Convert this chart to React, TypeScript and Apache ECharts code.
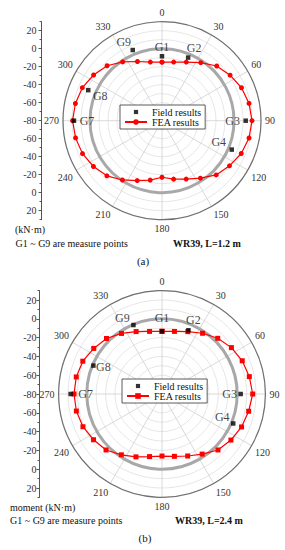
import React, { useEffect, useRef } from 'react';
import * as echarts from 'echarts';

// ---------- data ----------
const FEA_ANGLES = [
  0, 11.25, 22.5, 33.75, 45, 56.25, 67.5, 78.75,
  90, 101.25, 112.5, 123.75, 135, 146.25, 157.5, 168.75,
  180, 191.25, 202.5, 213.75, 225, 236.25, 247.5, 258.75,
  270, 281.25, 292.5, 303.75, 315, 326.25, 337.5, 348.75,
];
const FEA_A = [
  -15, -13.6, -9.5, -2.5, 6, 11, 15.6, 18.6,
  20, 18.6, 15.3, 10.2, 5.2, -3.2, -9.8, -13.8,
  -17.2, -12.7, -8, -0.8, 6.6, 11.6, 15.6, 17.9,
  19.4, 18.1, 15.8, 11.4, 6.3, -1.4, -8.8, -13.6,
];
const FEA_B = [
  -13.3, -12.1, -8.2, -2.3, 3.8, 8.8, 12.4, 14.7,
  16.5, 14, 11.6, 8.2, 4.2, -3.1, -8.6, -12.4,
  -14, -12.1, -7.6, -2.2, 4.2, 7.6, 11, 12.9,
  13.6, 13, 11.2, 7.3, 3.5, -2.5, -8.1, -12.1,
];
const FIELD_NAMES = ['G1', 'G2', 'G3', 'G4', 'G7', 'G8', 'G9'];
const FIELD_ANGLES = [0, 22.5, 90, 112.5, 270, 292.5, 337.5];
const FIELD_A = [-8.4, -4.1, 13, 3.9, 17.8, 8.7, 5];
const FIELD_B = [-13.3, -6.6, 3.7, 2, 17.2, -1, -0.6];

const ANGLE_TICK_LABELS = ['0', '30', '60', '90', '120', '150', '180', '210', '240', '270', '300', '330'];
const MOMENT_TICKS = [20, 0, -20, -40, -60, -80];
const R_MIN = -80;
const R_MAX = 30;

// ---------- layout ----------
const LABEL_OFFSETS_A = [[0, -9], [6, -10], [-13, 0], [-13, -8], [13, 0], [12, 6], [-9, -8]];
const LABEL_OFFSETS_B = [[0, -13], [5, -10], [-11, 0], [-11, -6], [15, 0], [10, 1], [-11, -7]];
const FONT = 'Liberation Serif';

type PanelCfg = {
  cx: number; cy: number; r: number; axisX: number; labelMargin: number;
  fea: number[]; field: number[]; offsets: number[][]; suffix: string; feaSymbol: string;
  legendLeft: number; legendTop: number;
};

const PANELS: PanelCfg[] = [
  { cx: 162, cy: 120.7, r: 99, axisX: 41.5, labelMargin: 5, fea: FEA_A, field: FIELD_A, offsets: LABEL_OFFSETS_A, suffix: '', feaSymbol: 'circle', legendLeft: 120, legendTop: 105 },
  { cx: 162, cy: 394, r: 103.4, axisX: 39.5, labelMargin: 3, fea: FEA_B, field: FIELD_B, offsets: LABEL_OFFSETS_B, suffix: ' (b)', feaSymbol: 'rect', legendLeft: 122, legendTop: 379 },
];

function buildOption() {
  const polar: any[] = [];
  const angleAxis: any[] = [];
  const radiusAxis: any[] = [];
  const grid: any[] = [];
  const xAxis: any[] = [];
  const yAxis: any[] = [];
  const legend: any[] = [];
  const series: any[] = [];

  const span = R_MAX - R_MIN;
  const majorVals: number[] = [];
  MOMENT_TICKS.forEach((m) => majorVals.push(m - R_MIN));
  MOMENT_TICKS.slice(0, -1).forEach((m) => majorVals.push(-(m - R_MIN)));
  const minorVals: number[] = [];
  for (let i = 0; i < MOMENT_TICKS.length - 1; i++) {
    const mid = (MOMENT_TICKS[i] + MOMENT_TICKS[i + 1]) / 2 - R_MIN;
    minorVals.push(mid, -mid);
  }
  minorVals.push(span, -span);

  PANELS.forEach((p, k) => {
    const zeroR = p.r * (0 - R_MIN) / span;
    // main polar
    polar.push({ center: [p.cx, p.cy], radius: p.r });
    angleAxis.push({
      polarIndex: 2 * k, type: 'value', min: 0, max: 360, interval: 30, startAngle: 90, clockwise: true,
      axisLine: { show: true, lineStyle: { color: '#707070', width: 1.2 } },
      axisTick: { show: false },
      axisLabel: {
        show: true, margin: 4, fontSize: 10, color: '#333', fontFamily: FONT,
        formatter: (v: number) => { const i = Math.round(v / 30); return i >= 0 && i < ANGLE_TICK_LABELS.length ? ANGLE_TICK_LABELS[i] : ''; },
      },
      splitLine: { show: true, lineStyle: { color: '#cfcfcf', width: 0.8 } },
    });
    radiusAxis.push({
      polarIndex: 2 * k, type: 'value', min: R_MIN, max: R_MAX, interval: 10,
      axisLine: { show: false }, axisTick: { show: false }, axisLabel: { show: false },
      splitLine: { show: true, lineStyle: { color: '#e0e0e0', width: 0.8 } },
    });
    // zero ring polar
    polar.push({ center: [p.cx, p.cy], radius: zeroR });
    angleAxis.push({
      polarIndex: 2 * k + 1, type: 'value', min: 0, max: 360, startAngle: 90,
      axisLine: { show: true, lineStyle: { color: '#a8a8a8', width: 3 } },
      axisTick: { show: false }, axisLabel: { show: false }, splitLine: { show: false },
    });
    radiusAxis.push({
      polarIndex: 2 * k + 1, type: 'value', min: 0, max: 1, show: false,
      axisLine: { show: false }, axisTick: { show: false }, axisLabel: { show: false }, splitLine: { show: false },
    });

    // left moment axis
    grid.push({ left: p.axisX, top: p.cy - p.r, width: 10, height: 2 * p.r });
    xAxis.push({ gridIndex: k, type: 'value', min: 0, max: 1, show: false });
    yAxis.push({
      gridIndex: k, type: 'value', min: -span, max: span, position: 'left',
      axisLine: { show: true, lineStyle: { color: '#555', width: 1 } },
      axisTick: { show: true, inside: false, length: 3, customValues: majorVals, lineStyle: { color: '#555' } },
      axisLabel: {
        show: true, margin: p.labelMargin, fontSize: 10, color: '#333', fontFamily: FONT,
        customValues: majorVals, formatter: (v: number) => String(Math.round(Math.abs(v) + R_MIN)),
      },
      splitLine: { show: false },
    });
    yAxis.push({
      gridIndex: k, type: 'value', min: -span, max: span, position: 'left',
      axisLine: { show: false },
      axisTick: { show: true, inside: false, length: 2, customValues: minorVals, lineStyle: { color: '#555' } },
      axisLabel: { show: false },
      splitLine: { show: false },
    });

    const feaName = 'FEA results' + p.suffix;
    const fieldName = 'Field results' + p.suffix;
    const feaData = FEA_ANGLES.map((a, i) => [p.fea[i], a]);
    feaData.push([p.fea[0], 360]);
    series.push({
      type: 'line', name: feaName, coordinateSystem: 'polar', polarIndex: 2 * k,
      data: feaData, symbol: p.feaSymbol, symbolSize: 5, showAllSymbol: true,
      lineStyle: { color: '#ff0000', width: 1.2 }, itemStyle: { color: '#ff0000' }, z: 3,
    });
    series.push({
      type: 'scatter', name: fieldName, coordinateSystem: 'polar', polarIndex: 2 * k,
      symbol: 'rect', symbolSize: 4.5, itemStyle: { color: '#000' }, z: 4,
      data: FIELD_ANGLES.map((a, i) => ({
        value: [p.field[i], a],
        label: {
          show: true, formatter: FIELD_NAMES[i], position: 'inside', offset: p.offsets[i],
          fontSize: 12, color: '#111', fontFamily: FONT,
        },
      })),
    });
    legend.push({
      left: p.legendLeft, top: p.legendTop, orient: 'vertical',
      backgroundColor: '#fff', borderColor: '#333', borderWidth: 0.8, borderRadius: 0,
      padding: [2, 4, 2, 4], itemGap: 0, itemWidth: 22, itemHeight: 7,
      textStyle: { fontSize: 10, color: '#111', fontFamily: FONT },
      formatter: (n: string) => n.replace(' (b)', ''),
      selectedMode: false,
      data: [
        { name: fieldName, icon: 'path://M0,0M10,10M2,2h6v6h-6z' },
        { name: feaName },
      ],
    });
  });

  const txt = (text: string, x: number, y: number, opts: any = {}) => ({
    type: 'text', x, y,
    style: {
      text, fontSize: opts.size || 10, fontFamily: FONT, fontWeight: opts.bold ? 'bold' : 'normal',
      fill: '#111', textAlign: opts.align || 'left', textVerticalAlign: 'middle',
    },
  });

  const graphic = [
    txt('(kN·m)', 15, 229),
    txt('G1 ~ G9 are measure points', 15.5, 243),
    txt('WR39, L=1.2 m', 173, 243, { bold: true }),
    txt('(a)', 143, 261, { size: 11, align: 'center' }),
    txt('moment (kN·m)', 10, 507),
    txt('G1 ~ G9 are measure points', 10, 520),
    txt('WR39, L=2.4 m', 175, 520, { bold: true }),
    txt('(b)', 145, 538, { size: 11, align: 'center' }),
  ];

  return {
    animation: false,
    backgroundColor: '#fff',
    textStyle: { fontFamily: FONT },
    polar, angleAxis, radiusAxis, grid, xAxis, yAxis, legend, series, graphic,
  };
}

export default function App() {
  const ref = useRef<HTMLDivElement>(null);
  useEffect(() => {
    if (!ref.current) return;
    const chart = echarts.init(ref.current, undefined, { renderer: 'svg' });
    chart.setOption(buildOption() as any);
    return () => chart.dispose();
  }, []);
  return <div ref={ref} style={{ position: 'absolute', left: 0, top: 0, width: 285, height: 550 }} />;
}
